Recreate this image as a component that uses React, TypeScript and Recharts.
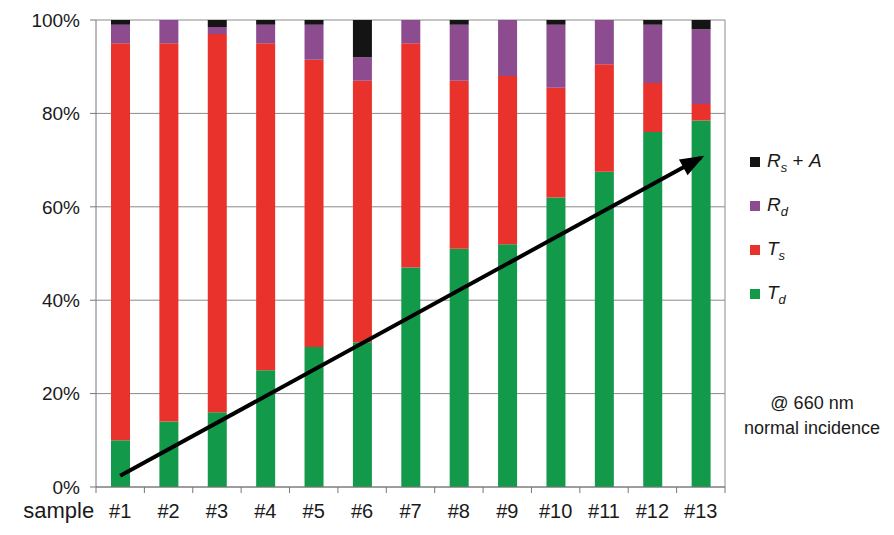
import React from 'react'
import {
  ComposedChart,
  Bar,
  Line,
  XAxis,
  YAxis,
  CartesianGrid,
  ReferenceLine,
} from 'recharts'

const samples = ['#1', '#2', '#3', '#4', '#5', '#6', '#7', '#8', '#9', '#10', '#11', '#12', '#13']
const tdValues = [10, 14, 16, 25, 30, 31, 47, 51, 52, 62, 67.5, 76, 78.5]
const tsValues = [85, 81, 81, 70, 61.5, 56, 48, 36, 36, 23.5, 23, 10.5, 3.5]
const rdValues = [4, 5, 1.5, 4, 7.5, 5, 5, 12, 12, 13.5, 9.5, 12.5, 16]
const rsaValues = [1, 0, 1.5, 1, 1, 8, 0, 1, 0, 1, 0, 1, 2]
// trend arrow: start at #1, tip at #13
const arrowValues: (number | null)[] = [2.4, null, null, null, null, null, null, null, null, null, null, null, 70.5]
const yTicks = [0, 20, 40, 60, 80, 100]

const FONT = '"Liberation Sans", Arial, sans-serif'

const colors = {
  td: '#13994a',
  ts: '#e8322b',
  rd: '#8d4c8f',
  rsa: '#141414',
}

const data = samples.map((s, i) => ({
  name: s,
  td: tdValues[i],
  ts: tsValues[i],
  rd: rdValues[i],
  rsa: rsaValues[i],
  arrow: arrowValues[i],
}))

const legendItems = [
  { key: 'rsa', main: 'R', sub: 's', extra: ' + A' },
  { key: 'rd', main: 'R', sub: 'd', extra: '' },
  { key: 'ts', main: 'T', sub: 's', extra: '' },
  { key: 'td', main: 'T', sub: 'd', extra: '' },
]

// remembers the first arrow point so the head can be aimed
let arrowFrom: { x: number; y: number } | null = null

const ArrowDot = (props: any) => {
  const { cx, cy, index } = props
  if (cy == null || cx == null || isNaN(cy)) return <g key={`ad-${index}`} />
  if (!arrowFrom || index === 0) {
    arrowFrom = { x: cx, y: cy }
    return <g key={`ad-${index}`} />
  }
  const ang = Math.atan2(cy - arrowFrom.y, cx - arrowFrom.x)
  const c = Math.cos(ang)
  const s = Math.sin(ang)
  const tx = cx + c * 4
  const ty = cy + s * 4
  const bx = tx - c * 24
  const by = ty - s * 24
  const w = 9
  const pts = `${tx},${ty} ${bx - s * w},${by + c * w} ${bx + s * w},${by - c * w}`
  return <polygon key={`ad-${index}`} points={pts} fill="#000" />
}

const XTick = (props: any) => {
  const { x, y, payload, index } = props
  const half = 629 / samples.length / 2
  return (
    <g>
      <line x1={x - half} x2={x - half} y1={y - 6} y2={y} stroke="#777" />
      {index === samples.length - 1 && (
        <line x1={x + half} x2={x + half} y1={y - 6} y2={y} stroke="#777" />
      )}
      {index === 0 && (
        <text x={x - 26} y={y + 25} textAnchor="end" fontSize={22} fill="#1a1a1a" fontFamily={FONT}>
          sample
        </text>
      )}
      <text x={x} y={y + 25} textAnchor="middle" fontSize={20} fill="#1a1a1a" fontFamily={FONT}>
        {payload.value}
      </text>
    </g>
  )
}

export default function App() {
  arrowFrom = null
  return (
    <div style={{ position: 'absolute', left: 0, top: 0, width: 894, height: 535, background: '#fff' }}>
      <ComposedChart
        width={894}
        height={535}
        data={data}
        margin={{ top: 20, right: 169, left: 0, bottom: 0 }}
      >
        <CartesianGrid vertical={false} stroke="#8a8a8a" />
        <XAxis
          dataKey="name"
          height={48}
          tickLine={false}
          tickSize={6}
          tickMargin={0}
          axisLine={{ stroke: '#777' }}
          tick={<XTick />}
          interval={0}
        />
        <YAxis
          width={96}
          domain={[0, 100]}
          ticks={yTicks}
          tickFormatter={(v: number) => `${v}%`}
          tickSize={6}
          tickMargin={10}
          axisLine={{ stroke: '#777' }}
          tickLine={{ stroke: '#777' }}
          tick={{ fontSize: 19, fill: '#1a1a1a', fontFamily: FONT }}
          allowDataOverflow
        />
        <ReferenceLine x="#13" position="end" stroke="#8a8a8a" />
        <Bar dataKey="td" stackId="a" fill={colors.td} barSize={19} isAnimationActive={false} />
        <Bar dataKey="ts" stackId="a" fill={colors.ts} barSize={19} isAnimationActive={false} />
        <Bar dataKey="rd" stackId="a" fill={colors.rd} barSize={19} isAnimationActive={false} />
        <Bar dataKey="rsa" stackId="a" fill={colors.rsa} barSize={19} isAnimationActive={false} />
        <Line
          dataKey="arrow"
          stroke="#000"
          strokeWidth={4}
          connectNulls
          dot={(p: any) => <ArrowDot {...p} />}
          activeDot={false}
          isAnimationActive={false}
        />
      </ComposedChart>

      <div style={{ position: 'absolute', left: 750, top: 140, fontFamily: FONT, color: '#1a1a1a' }}>
        {legendItems.map((it) => (
          <div key={it.key} style={{ height: 44, display: 'flex', alignItems: 'center' }}>
            <span
              style={{
                display: 'inline-block',
                width: 10,
                height: 10,
                background: (colors as any)[it.key],
                marginRight: 7,
              }}
            />
            <span style={{ fontSize: 19 }}>
              <i>{it.main}</i>
              <sub style={{ fontSize: 13, fontStyle: 'italic' }}>{it.sub}</sub>
              {it.extra && (
                <>
                  {' + '}
                  <i>A</i>
                </>
              )}
            </span>
          </div>
        ))}
      </div>

      <div
        style={{
          position: 'absolute',
          left: 730,
          top: 391,
          width: 164,
          textAlign: 'center',
          fontFamily: FONT,
          fontSize: 18,
          lineHeight: '25px',
          color: '#1a1a1a',
        }}
      >
        @ 660 nm
        <br />
        normal incidence
      </div>
    </div>
  )
}
